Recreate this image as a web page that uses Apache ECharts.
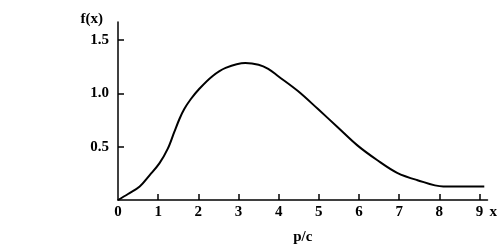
<!DOCTYPE html>
<html><head><meta charset="utf-8">
<script src="https://cdn.jsdelivr.net/npm/echarts@6/dist/echarts.min.js"></script>
<style>html,body{margin:0;padding:0;background:#fff}#c{width:500px;height:250px}</style>
</head><body><div id="c"></div>
<script>
const xValues = [0, 0.25, 0.54, 0.79, 1.03, 1.24, 1.40, 1.53, 1.65, 1.81, 2.02, 2.35, 2.68, 3.17, 3.5, 3.74, 3.99, 4.48, 4.98, 5.47, 5.96, 6.45, 6.95, 7.44, 8.1, 8.6, 9.12];
const yValues = [0, 0.056, 0.127, 0.234, 0.343, 0.481, 0.636, 0.759, 0.852, 0.944, 1.04, 1.16, 1.238, 1.284, 1.268, 1.229, 1.16, 1.021, 0.852, 0.682, 0.512, 0.375, 0.255, 0.188, 0.127, 0.127, 0.127];
const xTicks = [1, 2, 3, 4, 5, 6, 7, 8, 9];
const xLabels = [0, 1, 2, 3, 4, 5, 6, 7, 8, 9];
const yTicks = [0.5, 1.0, 1.5];

const font = {fontFamily: 'Liberation Serif', fontWeight: 'bold', fontSize: 15, color: '#000'};
const chart = echarts.init(document.getElementById('c'), null, {renderer: 'canvas'});
chart.setOption({
  animation: false,
  backgroundColor: '#fff',
  grid: {left: 118, top: 22, right: 8.5, bottom: 48},
  xAxis: [{
    type: 'value', min: 0, max: 9.2,
    name: 'p/c', nameLocation: 'middle', nameGap: 30,
    nameTextStyle: font,
    axisLine: {show: true, lineStyle: {color: '#000', width: 1.5}},
    axisTick: {show: true, inside: true, length: 6, customValues: xTicks, lineStyle: {color: '#000', width: 1.5}},
    axisLabel: {customValues: xLabels, margin: 5, ...font},
    splitLine: {show: false}
  }, {
    type: 'value', min: 0, max: 9.2, position: 'bottom',
    name: 'x', nameLocation: 'end', nameGap: 2,
    nameTextStyle: {...font, verticalAlign: 'top', padding: [5, 0, 0, 0]},
    axisLine: {show: false}, axisTick: {show: false}, axisLabel: {show: false}, splitLine: {show: false}
  }],
  yAxis: {
    type: 'value', min: 0, max: 1.668,
    name: 'f(x)', nameLocation: 'end', nameGap: 3,
    nameTextStyle: {...font, align: 'right', verticalAlign: 'middle', padding: [0, 15, 0, 0]},
    axisLine: {show: true, lineStyle: {color: '#000', width: 1.5}},
    axisTick: {show: true, inside: true, length: 6, customValues: yTicks, lineStyle: {color: '#000', width: 1.5}},
    axisLabel: {customValues: yTicks, margin: 9, formatter: v => v.toFixed(1), ...font},
    splitLine: {show: false}
  },
  series: [{
    type: 'line', xAxisIndex: 0,
    data: xValues.map((x, i) => [x, yValues[i]]),
    smooth: 0.35, symbol: 'none',
    lineStyle: {color: '#000', width: 2}
  }]
});
</script></body></html>
